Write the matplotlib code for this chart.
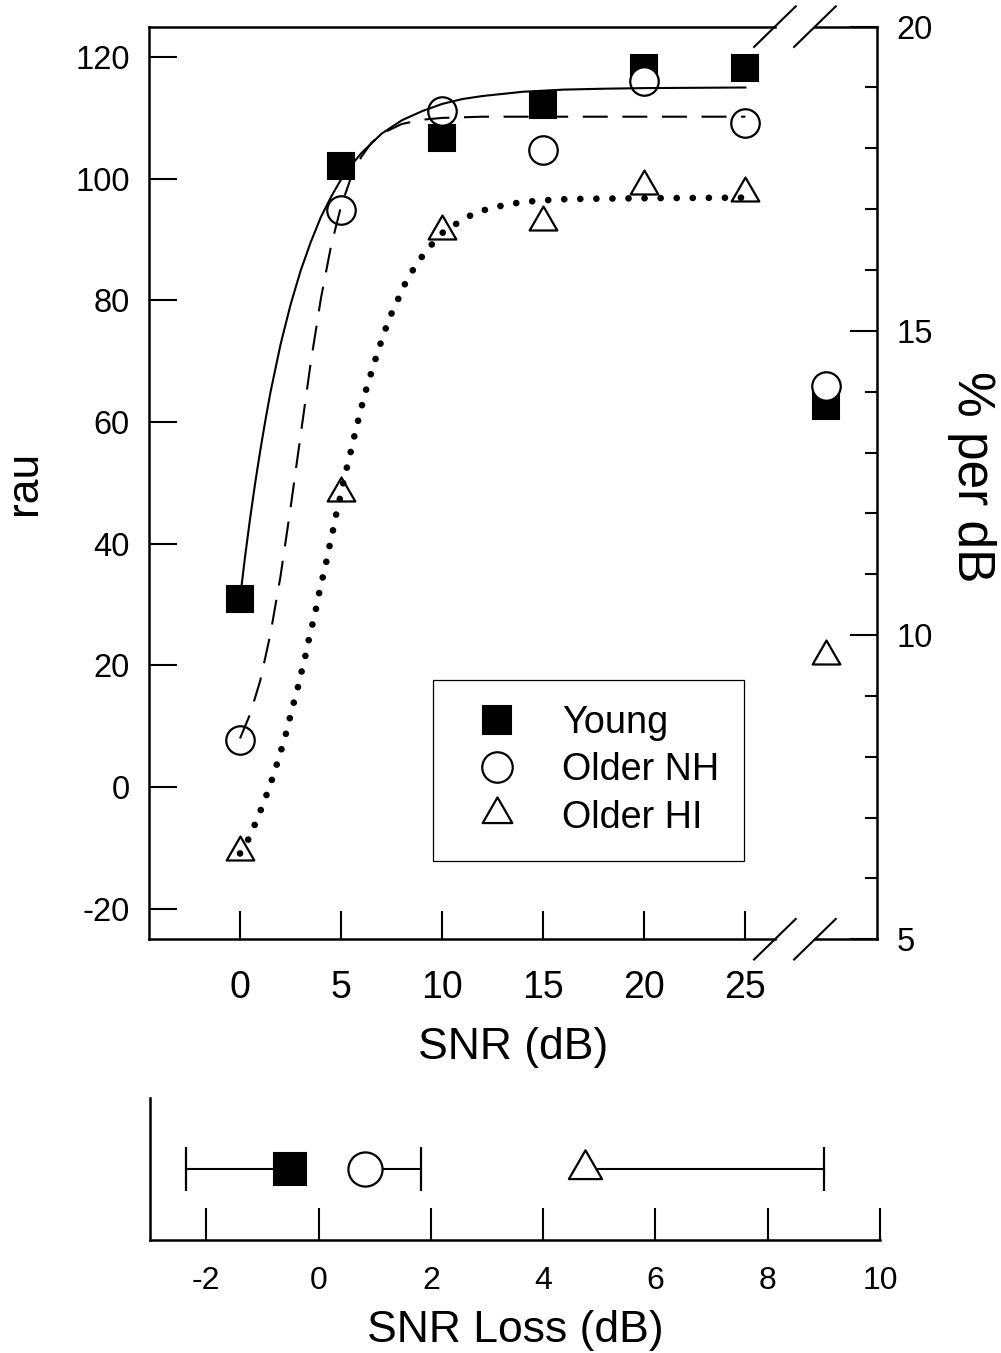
import matplotlib
matplotlib.use("Agg")
import matplotlib.pyplot as plt
from matplotlib.path import Path
from matplotlib.ticker import MultipleLocator

plt.rcParams["font.family"] = ["Liberation Sans", "DejaVu Sans"]
plt.rcParams["axes.unicode_minus"] = False

# measured scores (rau) at each SNR
snr = [0, 5, 10, 15, 20, 25]
young = [30.9, 102.1, 106.7, 112.1, 118.2, 118.2]
older_nh = [7.7, 94.9, 111.2, 104.7, 116.0, 109.2]
older_hi = [-10.7, 48.3, 91.4, 92.9, 98.8, 97.7]

# slopes (% per dB), shown at the right of the break
slope_x = [29]
young_slope = [13.77]
older_nh_slope = [14.09]
older_hi_slope = [9.66]

# fitted curves
young_fit_x = [0, 0.25, 0.5, 0.75, 1, 1.25, 1.5, 2, 2.5, 3, 3.5, 4, 4.5, 5, 5.5,
               6, 7, 8, 9, 10, 11, 12, 14, 16, 18, 20, 25]
young_fit_y = [31.0, 37.9, 44.2, 50.0, 55.3, 60.2, 64.8, 72.7, 79.3, 84.9, 89.6,
               93.7, 97.0, 99.9, 102.2, 104.2, 107.4, 109.6, 111.1, 112.3, 113.1,
               113.6, 114.3, 114.65, 114.8, 114.9, 115.0]

nh_fit_x = [0, 0.5, 1, 1.5, 2, 2.5, 3, 3.5, 4, 4.5, 5, 5.5, 6, 6.5, 7, 8, 9, 10,
            12, 15, 20, 25]
nh_fit_y = [8.0, 12.0, 17.5, 25.1, 34.6, 45.9, 57.9, 69.8, 80.3, 88.9, 95.5,
            100.3, 103.6, 105.9, 107.4, 109.0, 109.7, 110.0, 110.2, 110.2, 110.2,
            110.2]

hi_fit_x = [0, 0.46, 0.79, 1.12, 1.42, 1.7, 1.94, 2.19, 2.4, 2.6, 2.82, 3.01,
            3.21, 3.38, 3.57, 3.75, 3.92, 4.1, 4.28, 4.45, 4.63, 4.79, 4.99, 5.15,
            5.35, 5.55, 5.73, 5.94, 6.14, 6.37, 6.62, 6.88, 7.15, 7.46, 7.82, 8.2,
            8.66, 9.24, 10.01, 10.84, 11.63, 12.45, 13.26, 14.05, 14.87, 15.66,
            17, 20, 25]
hi_fit_y = [-10.9, -8.3, -5.7, -3.0, -0.3, 2.4, 5.1, 7.7, 10.5, 13.2, 15.8, 18.5,
            21.2, 23.9, 26.6, 29.2, 32.0, 34.6, 37.2, 40.0, 42.7, 45.4, 48.1, 50.7,
            53.4, 56.1, 58.8, 61.5, 64.2, 66.8, 69.5, 72.2, 74.9, 77.6, 80.2, 83.0,
            85.6, 88.3, 91.1, 92.9, 94.4, 95.2, 95.8, 96.2, 96.4, 96.6, 96.7, 96.8,
            96.9]

# SNR loss: group mean and the one-sided error bar end
loss_mean = [-0.51, 0.83, 4.74]
loss_end = [-2.36, 1.83, 9.01]

groups = ["Young", "Older NH", "Older HI"]

# triangle with its centroid on the data point
tri = Path([(0, 1), (-0.866, -0.5), (0.866, -0.5), (0, 1)],
           [Path.MOVETO, Path.LINETO, Path.LINETO, Path.CLOSEPOLY])

styles = [
    dict(marker="s", ms=19, mfc="black", mec="black", mew=1.5),
    dict(marker="o", ms=20.5, mfc="white", mec="black", mew=1.6),
    dict(marker=tri, ms=23, mfc="white", mec="black", mew=1.6),
]

fig = plt.figure(figsize=(10.01, 13.53), dpi=100)
ax = fig.add_axes([0.1489, 0.3058, 0.7270, 0.6745])
ax2 = ax.twinx()
axb = fig.add_axes([0.1499, 0.0835, 0.7293, 0.1050])

label_fs = 32

# --- main panel ---
for vals, slope, st, name in zip([young, older_nh, older_hi],
                                  [young_slope, older_nh_slope, older_hi_slope],
                                  styles, groups):
    ax.plot(snr, vals, ls="none", zorder=2, label=name, **st)
    ax2.plot(slope_x, slope, ls="none", zorder=2, **st)

ax.plot(young_fit_x, young_fit_y, color="black", lw=1.5, zorder=3)
ax.plot(nh_fit_x, nh_fit_y, color="black", lw=1.5, ls=(0, (12, 7)), zorder=3)
ax.plot(hi_fit_x, hi_fit_y, color="black", lw=4.8, ls=(0, (0.01, 2.4)),
        dash_capstyle="round", zorder=3)

ax.set_xlim(-4.5, 31.5)
ax.set_ylim(-25, 125)
ax2.set_ylim(5, 20)

ax.set_xticks(snr)
ax.set_yticks(range(-20, 121, 20))
ax2.set_yticks([5, 10, 15, 20])
ax2.yaxis.set_minor_locator(MultipleLocator(1))

ax.tick_params(axis="x", direction="in", length=20, width=1.5, pad=22,
               labelsize=27, top=False)
ax.tick_params(axis="y", direction="in", length=20, width=1.5, pad=14,
               labelsize=23.5, right=False)
ax2.tick_params(axis="y", which="major", direction="in", length=19.5, width=1.5,
                pad=14, labelsize=23.5)
ax2.tick_params(axis="y", which="minor", direction="in", length=8.6, width=1.5)

for a in (ax, ax2):
    for s in ("top", "bottom"):
        a.spines[s].set_visible(False)
ax.spines["right"].set_visible(False)
ax2.spines["left"].set_visible(False)
ax.spines["left"].set_linewidth(1.8)
ax2.spines["right"].set_linewidth(1.8)

# broken top and bottom spines
gap0, gap1 = 0.860, 0.915
dx, dy = 0.0286, 0.0222
for yy in (0, 1):
    ax.plot([0, gap0], [yy, yy], transform=ax.transAxes, color="black",
            lw=1.8, clip_on=False, solid_capstyle="projecting")
    ax.plot([gap1, 1], [yy, yy], transform=ax.transAxes, color="black",
            lw=1.8, clip_on=False, solid_capstyle="projecting")
    for xx in (gap0, gap1):
        ax.plot([xx - dx, xx + dx], [yy - dy, yy + dy], transform=ax.transAxes,
                color="black", lw=1.5, clip_on=False)

ax.set_xlabel("SNR (dB)", fontsize=label_fs, labelpad=15)
ax.set_ylabel("rau", fontsize=label_fs, labelpad=22)
ax2.set_ylabel("% per dB", fontsize=37, rotation=270, va="bottom", labelpad=10)
ax2.yaxis.label.set_y(0.507)

leg = ax.legend(loc="upper left", bbox_to_anchor=(0.39, 0.284), borderaxespad=0,
                fontsize=27.2, frameon=True, fancybox=False, edgecolor="black",
                framealpha=1, borderpad=0.66, handlelength=2.05,
                handletextpad=0.7, labelspacing=0.3, markerscale=1.07)
leg.get_frame().set_linewidth(0.9)

# --- SNR loss panel ---
for m, e, st in zip(loss_mean, loss_end, styles):
    axb.plot([m, e], [0, 0], color="black", lw=1.5, zorder=2)
    axb.plot([e], [0], marker="|", ms=31, mew=1.6, color="black", zorder=2)
    big = dict(st)
    big["ms"] = st["ms"] * 1.2
    axb.plot([m], [0], ls="none", zorder=3, **big)

axb.set_xlim(-3, 10)
axb.set_ylim(-1, 1)
axb.set_xticks(range(-2, 11, 2))
axb.set_yticks([])
axb.tick_params(axis="x", direction="in", length=23, width=1.5, pad=19,
                labelsize=23)
axb.spines["top"].set_visible(False)
axb.spines["right"].set_visible(False)
axb.spines["left"].set_linewidth(1.8)
axb.spines["bottom"].set_linewidth(1.8)
axb.set_xlabel("SNR Loss (dB)", fontsize=label_fs, labelpad=10)

fig.savefig("out.png", dpi=100)
